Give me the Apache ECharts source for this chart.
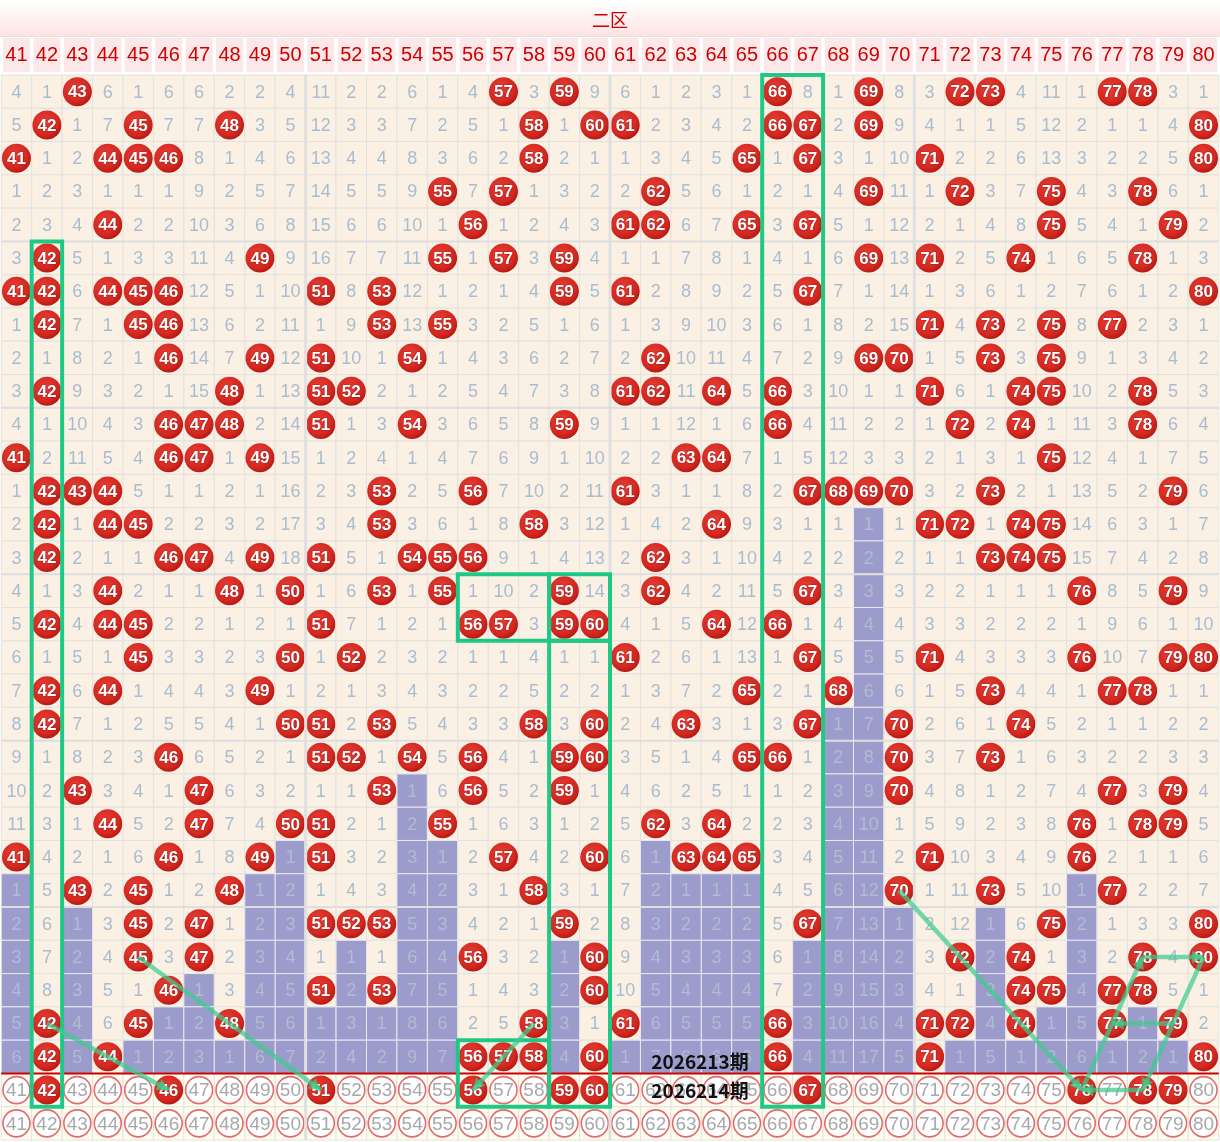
<!DOCTYPE html>
<html><head><meta charset="utf-8">
<script src="https://cdn.jsdelivr.net/npm/echarts@6/dist/echarts.min.js"></script>
<style>html,body{margin:0;padding:0;background:#fff}#c{width:1220px;height:1142px}</style>
</head><body><div id="c"></div><script>
// ---- data ----
const columnLabels = ['41','42','43','44','45','46','47','48','49','50','51','52','53','54','55','56','57','58','59','60',
  '61','62','63','64','65','66','67','68','69','70','71','72','73','74','75','76','77','78','79','80'];
const rowLabels = ['1','2','3','4','5','6','7','8','9','10','11','12','13','14','15','16','17','18','19','20',
  '21','22','23','24','25','26','27','28','29','30','31','32'];
// omission per period (0 = drawn)
const omission = [
 [4,1,0,6,1,6,6,2,2,4, 11,2,2,6,1,4,0,3,0,9, 6,1,2,3,1,0,8,1,0,8, 3,0,0,4,11,1,0,0,3,1],
 [5,0,1,7,0,7,7,0,3,5, 12,3,3,7,2,5,1,0,1,0, 0,2,3,4,2,0,0,2,0,9, 4,1,1,5,12,2,1,1,4,0],
 [0,1,2,0,0,0,8,1,4,6, 13,4,4,8,3,6,2,0,2,1, 1,3,4,5,0,1,0,3,1,10, 0,2,2,6,13,3,2,2,5,0],
 [1,2,3,1,1,1,9,2,5,7, 14,5,5,9,0,7,0,1,3,2, 2,0,5,6,1,2,1,4,0,11, 1,0,3,7,0,4,3,0,6,1],
 [2,3,4,0,2,2,10,3,6,8, 15,6,6,10,1,0,1,2,4,3, 0,0,6,7,0,3,0,5,1,12, 2,1,4,8,0,5,4,1,0,2],
 [3,0,5,1,3,3,11,4,0,9, 16,7,7,11,0,1,0,3,0,4, 1,1,7,8,1,4,1,6,0,13, 0,2,5,0,1,6,5,0,1,3],
 [0,0,6,0,0,0,12,5,1,10, 0,8,0,12,1,2,1,4,0,5, 0,2,8,9,2,5,0,7,1,14, 1,3,6,1,2,7,6,1,2,0],
 [1,0,7,1,0,0,13,6,2,11, 1,9,0,13,0,3,2,5,1,6, 1,3,9,10,3,6,1,8,2,15, 0,4,0,2,0,8,0,2,3,1],
 [2,1,8,2,1,0,14,7,0,12, 0,10,1,0,1,4,3,6,2,7, 2,0,10,11,4,7,2,9,0,0, 1,5,0,3,0,9,1,3,4,2],
 [3,0,9,3,2,1,15,0,1,13, 0,0,2,1,2,5,4,7,3,8, 0,0,11,0,5,0,3,10,1,1, 0,6,1,0,0,10,2,0,5,3],
 [4,1,10,4,3,0,0,0,2,14, 0,1,3,0,3,6,5,8,0,9, 1,1,12,1,6,0,4,11,2,2, 1,0,2,0,1,11,3,0,6,4],
 [0,2,11,5,4,0,0,1,0,15, 1,2,4,1,4,7,6,9,1,10, 2,2,0,0,7,1,5,12,3,3, 2,1,3,1,0,12,4,1,7,5],
 [1,0,0,0,5,1,1,2,1,16, 2,3,0,2,5,0,7,10,2,11, 0,3,1,1,8,2,0,0,0,0, 3,2,0,2,1,13,5,2,0,6],
 [2,0,1,0,0,2,2,3,2,17, 3,4,0,3,6,1,8,0,3,12, 1,4,2,0,9,3,1,1,1,1, 0,0,1,0,0,14,6,3,1,7],
 [3,0,2,1,1,0,0,4,0,18, 0,5,1,0,0,0,9,1,4,13, 2,0,3,1,10,4,2,2,2,2, 1,1,0,0,0,15,7,4,2,8],
 [4,1,3,0,2,1,1,0,1,0, 1,6,0,1,0,1,10,2,0,14, 3,0,4,2,11,5,0,3,3,3, 2,2,1,1,1,0,8,5,0,9],
 [5,0,4,0,0,2,2,1,2,1, 0,7,1,2,1,0,0,3,0,0, 4,1,5,0,12,0,1,4,4,4, 3,3,2,2,2,1,9,6,1,10],
 [6,1,5,1,0,3,3,2,3,0, 1,0,2,3,2,1,1,4,1,1, 0,2,6,1,13,1,0,5,5,5, 0,4,3,3,3,0,10,7,0,0],
 [7,0,6,0,1,4,4,3,0,1, 2,1,3,4,3,2,2,5,2,2, 1,3,7,2,0,2,1,0,6,6, 1,5,0,4,4,1,0,0,1,1],
 [8,0,7,1,2,5,5,4,1,0, 0,2,0,5,4,3,3,0,3,0, 2,4,0,3,1,3,0,1,7,0, 2,6,1,0,5,2,1,1,2,2],
 [9,1,8,2,3,0,6,5,2,1, 0,0,1,0,5,0,4,1,0,0, 3,5,1,4,0,0,1,2,8,0, 3,7,0,1,6,3,2,2,3,3],
 [10,2,0,3,4,1,0,6,3,2, 1,1,0,1,6,0,5,2,0,1, 4,6,2,5,1,1,2,3,9,0, 4,8,1,2,7,4,0,3,0,4],
 [11,3,1,0,5,2,0,7,4,0, 0,2,1,2,0,1,6,3,1,2, 5,0,3,0,2,2,3,4,10,1, 5,9,2,3,8,0,1,0,0,5],
 [0,4,2,1,6,0,1,8,0,1, 0,3,2,3,1,2,0,4,2,0, 6,1,0,0,0,3,4,5,11,2, 0,10,3,4,9,0,2,1,1,6],
 [1,5,0,2,0,1,2,0,1,2, 1,4,3,4,2,3,1,0,3,1, 7,2,1,1,1,4,5,6,12,0, 1,11,0,5,10,1,0,2,2,7],
 [2,6,1,3,0,2,0,1,2,3, 0,0,0,5,3,4,2,1,0,2, 8,3,2,2,2,5,0,7,13,1, 2,12,1,6,0,2,1,3,3,0],
 [3,7,2,4,0,3,0,2,3,4, 1,1,1,6,4,0,3,2,1,0, 9,4,3,3,3,6,1,8,14,2, 3,0,2,0,1,3,2,0,4,0],
 [4,8,3,5,1,0,1,3,4,5, 0,2,0,7,5,1,4,3,2,0, 10,5,4,4,4,7,2,9,15,3, 4,1,3,0,0,4,0,0,5,1],
 [5,0,4,6,0,1,2,0,5,6, 1,3,1,8,6,2,5,0,3,1, 0,6,5,5,5,0,3,10,16,4, 0,0,4,0,1,5,0,1,0,2],
 [6,0,5,0,1,2,3,1,6,7, 2,4,2,9,7,0,0,0,4,0, 1,7,6,6,6,0,4,11,17,5, 0,1,5,1,2,6,1,2,1,0]
];
const nextDraw = ['42','46','51','56','59','60','67','76','78','79'];
const periodLabels = ['2026213期','2026214期'];
const boxes = [['42','42',6,31],['66','67',1,31],['56','58',16,17],['59','60',16,17],['59','60',18,31],['56','58',30,31]];
const arrows = [['42',29,'46',31],['45',27,'51',31],['58',29,'56',31],['70',25,'76',31],['76',31,'78',27],
  ['78',27,'80',27],['80',27,'78',31],['78',31,'76',31],['79',29,'77',29]];

// ---- build ----
const nRows = omission.length;
const lastHit = columnLabels.map((_, c) => { let l = -1; omission.forEach((row, r) => { if (row[c] === 0) l = r; }); return l; });
const cells = [];
omission.forEach((row, r) => row.forEach((v, c) => {
  let t = v === 0 ? 1 : (r > lastHit[c] ? 2 : 0);
  cells.push([c, r, v, t]);
}));
columnLabels.forEach((lab, c) => {
  cells.push([c, nRows, 0, nextDraw.includes(lab) ? 4 : 3]);
  cells.push([c, nRows + 1, 0, 3]);
});
const ci = lab => columnLabels.indexOf(lab);
const FONT = '"Liberation Sans", Arial, sans-serif';
const ballFill = new echarts.graphic.RadialGradient(0.42, 0.38, 0.62, [
  {offset: 0, color: '#ea3f37'}, {offset: 0.75, color: '#d3281f'}, {offset: 1, color: '#b81913'}]);

function ball(x, y, text) {
  return [
    {type: 'circle', shape: {cx: x, cy: y, r: 14.5}, style: {fill: ballFill}},
    {type: 'text', style: {text, x, y: y + 1, align: 'center', verticalAlign: 'middle', fill: '#fff',
      font: 'bold 17px ' + FONT, textShadowColor: 'rgba(90,0,0,0.7)', textShadowBlur: 2}}
  ];
}

function renderCell(params, api) {
  const c = api.value(0), r = api.value(1), v = api.value(2), t = api.value(3);
  const p = api.coord([c, r]);
  const s = api.size([1, 1]);
  const w = s[0], h = s[1];
  const bg = t === 2 ? '#9c9ccc' : (t >= 3 ? '#fffdf0' : '#faf0e4');
  let ch = [{type: 'rect', shape: {x: p[0] - w / 2, y: p[1] - h / 2, width: w, height: h},
    style: {fill: bg, stroke: t === 2 ? '#e8e8f0' : '#e4e2de', lineWidth: 1}}];
  if (t === 1 || t === 4) {
    ch = ch.concat(ball(p[0], p[1], columnLabels[c]));
  } else if (t === 3) {
    ch.push({type: 'circle', shape: {cx: p[0], cy: p[1], r: 13.5}, style: {fill: '#fff', stroke: '#e26c6c', lineWidth: 1.6}});
    ch.push({type: 'text', style: {text: columnLabels[c], x: p[0], y: p[1] + 1, align: 'center', verticalAlign: 'middle',
      fill: '#a8a8a8', font: '19px ' + FONT}});
  } else {
    ch.push({type: 'text', style: {text: String(v), x: p[0], y: p[1] + 1, align: 'center', verticalAlign: 'middle',
      fill: t === 2 ? '#aebdd0' : '#a9bdd0', font: '18px ' + FONT}});
  }
  return {type: 'group', children: ch};
}

function renderSeparators(params, api) {
  const s = api.size([1, 1]);
  const w = s[0], h = s[1];
  const ch = [];
  const top = api.coord([0, 0])[1] - h / 2;
  const bottom = api.coord([0, nRows + 1])[1] + h / 2;
  const left = api.coord([0, 0])[0] - w / 2;
  const right = api.coord([columnLabels.length - 1, 0])[0] + w / 2;
  [9, 19, 29].forEach(c => {
    const x = api.coord([c, 0])[0] + w / 2;
    ch.push({type: 'line', shape: {x1: x, y1: top, x2: x, y2: bottom}, style: {stroke: '#e0e0e0', lineWidth: 3}});
  });
  [4, 9, 14, 19, 24].forEach(r => {
    const y = api.coord([0, r])[1] + h / 2;
    ch.push({type: 'line', shape: {x1: left, y1: y, x2: right, y2: y}, style: {stroke: '#dedede', lineWidth: 2}});
  });
  const yr = api.coord([0, nRows - 1])[1] + h / 2;
  ch.push({type: 'line', shape: {x1: left, y1: yr, x2: right, y2: yr}, style: {stroke: '#cc0000', lineWidth: 2}});
  return {type: 'group', children: ch};
}

function renderBox(params, api) {
  const c0 = api.value(0), c1 = api.value(1), r0 = api.value(2), r1 = api.value(3);
  const s = api.size([1, 1]);
  const a = api.coord([c0, r0]), b = api.coord([c1, r1]);
  return {type: 'rect', shape: {x: a[0] - s[0] / 2, y: a[1] - s[1] / 2, width: b[0] - a[0] + s[0], height: b[1] - a[1] + s[1]},
    style: {fill: 'none', stroke: '#1fc985', lineWidth: 4}};
}

function renderArrow(params, api) {
  const a = api.coord([api.value(0), api.value(1)]), b = api.coord([api.value(2), api.value(3)]);
  const ang = Math.atan2(b[1] - a[1], b[0] - a[0]);
  const L = 13, sp = 0.5;
  const col = 'rgba(62,204,142,0.72)';
  return {type: 'group', children: [
    {type: 'line', shape: {x1: a[0], y1: a[1], x2: b[0], y2: b[1]}, style: {stroke: col, lineWidth: 4.5}},
    {type: 'polygon', shape: {points: [[b[0], b[1]],
      [b[0] - L * Math.cos(ang - sp), b[1] - L * Math.sin(ang - sp)],
      [b[0] - L * Math.cos(ang + sp), b[1] - L * Math.sin(ang + sp)]]}, style: {fill: col}}
  ]};
}

const chart = echarts.init(document.getElementById('c'));
chart.setOption({
  animation: false,
  backgroundColor: '#fff',
  title: {text: '二区', left: 'center', top: 6, textStyle: {color: '#cc0000', fontSize: 18, fontWeight: 'normal',
    fontFamily: '"Noto Sans CJK SC", sans-serif'}},
  graphic: [
    {type: 'rect', z: -10, shape: {x: 0, y: 0, width: 1220, height: 36},
      style: {fill: new echarts.graphic.LinearGradient(0, 0, 0, 1, [{offset: 0, color: '#ffffff'}, {offset: 1, color: '#fde3e3'}])}},
    {type: 'line', z: -10, shape: {x1: 0, y1: 36.5, x2: 1220, y2: 36.5}, style: {stroke: '#e6e0e0', lineWidth: 1}},
    {type: 'text', z: 100, style: {text: periodLabels[0], x: 700, y: 1062, align: 'center', verticalAlign: 'middle',
      fill: '#111', font: 'bold 19px "Noto Sans CJK SC", sans-serif'}},
    {type: 'text', z: 100, style: {text: periodLabels[1], x: 700, y: 1091, align: 'center', verticalAlign: 'middle',
      fill: '#111', font: 'bold 19px "Noto Sans CJK SC", sans-serif'}}
  ],
  grid: {left: 0, right: 0, top: 75, bottom: 2},
  xAxis: {type: 'category', position: 'top', data: columnLabels,
    axisLine: {show: false}, axisTick: {show: false}, splitLine: {show: false},
    axisLabel: {interval: 0, margin: 3, color: '#d00000', fontSize: 20, fontFamily: FONT,
      backgroundColor: '#fce8e8', width: 27, height: 34, lineHeight: 34, align: 'center'}},
  yAxis: {type: 'category', inverse: true, data: rowLabels, show: false},
  series: [
    {type: 'custom', z: 2, clip: false, renderItem: renderCell, data: cells, encode: {x: 0, y: 1}},
    {type: 'custom', z: 3, clip: false, renderItem: renderSeparators, data: [[0, 0]], encode: {x: 0, y: 1}},
    {type: 'custom', z: 5, clip: false, renderItem: renderBox,
      data: boxes.map(b => [ci(b[0]), ci(b[1]), b[2] - 1, b[3] - 1]), encode: {x: [0, 1], y: [2, 3]}},
    {type: 'custom', z: 6, clip: false, renderItem: renderArrow,
      data: arrows.map(a => [ci(a[0]), a[1] - 1, ci(a[2]), a[3] - 1]), encode: {x: [0, 2], y: [1, 3]}}
  ]
});
</script></body></html>
